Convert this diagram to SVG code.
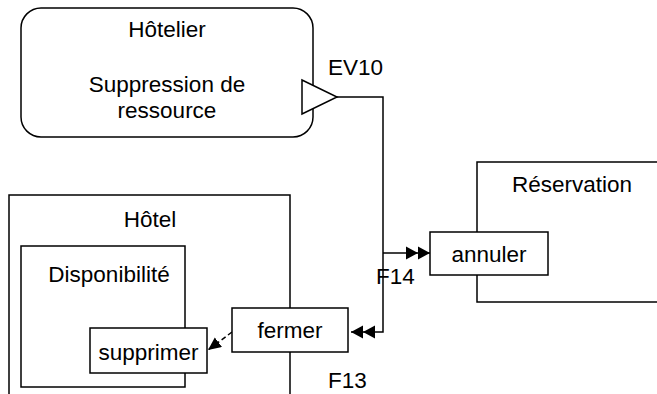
<svg xmlns="http://www.w3.org/2000/svg" width="657" height="394" viewBox="0 0 657 394">
<style>
.box{fill:#fff;stroke:#000;stroke-width:1.5}
.ln{fill:none;stroke:#000;stroke-width:1.5}
text{font-family:"Liberation Sans",Arial,sans-serif;font-size:22.5px;fill:#000}
.c{text-anchor:middle}
</style>
<defs>
<marker id="dbl" markerWidth="26" markerHeight="14" refX="24" refY="7" orient="auto" markerUnits="userSpaceOnUse">
<path d="M0,0.5 L12,7 L0,13.5 Z M12,0.5 L24,7 L12,13.5 Z" fill="#000"/>
</marker>
<marker id="arr" markerWidth="14" markerHeight="14" refX="13" refY="6" orient="auto" markerUnits="userSpaceOnUse">
<path d="M0,0 L13,6 L0,12 Z" fill="#000"/>
</marker>
</defs>
<g id="hotelier">
<rect class="box" x="21" y="8" width="292" height="129" rx="20" ry="20"/>
<text class="c" x="167" y="37">Hôtelier</text>
<text class="c" x="167" y="92">Suppression de</text>
<text class="c" x="167" y="118">ressource</text>
</g>
<g id="reservation">
<rect class="box" x="477" y="162" width="200" height="140"/>
<text class="c" x="572" y="192">Réservation</text>
</g>
<g id="hotel">
<rect class="box" x="9" y="195" width="281" height="220"/>
<text class="c" x="150" y="227">Hôtel</text>
</g>
<g id="disponibilite">
<rect class="box" x="21" y="246" width="164" height="141"/>
<text class="c" x="109" y="282">Disponibilité</text>
</g>
<g id="connectors">
<path class="ln" d="M337,97 H383 V332 H351" marker-end="url(#dbl)"/>
<path class="ln" d="M383,253 H430" marker-end="url(#dbl)"/>
<path class="ln" d="M232,332 L208,350" stroke-dasharray="5,3" marker-end="url(#arr)"/>
<text x="328" y="75">EV10</text>
<text x="376" y="284">F14</text>
<text x="328" y="388">F13</text>
</g>
<g id="event">
<path class="box" d="M302,80 L337,97 L302,114 Z"/>
</g>
<g id="annuler">
<rect class="box" x="430" y="232" width="118" height="43"/>
<text class="c" x="489" y="262">annuler</text>
</g>
<g id="fermer">
<rect class="box" x="232" y="308" width="116" height="44"/>
<text class="c" x="290" y="338">fermer</text>
</g>
<g id="supprimer">
<rect class="box" x="90" y="328" width="117" height="45"/>
<text class="c" x="148.5" y="360">supprimer</text>
</g>
</svg>
